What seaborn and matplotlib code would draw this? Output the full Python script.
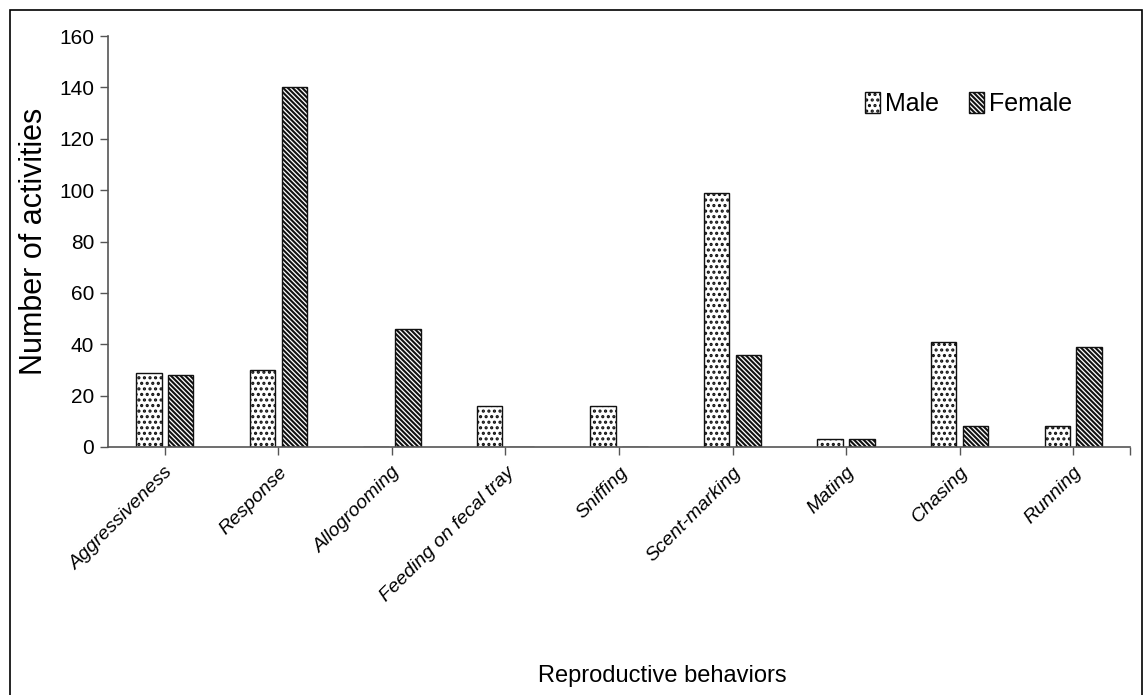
import numpy as np
import pandas as pd
import matplotlib
matplotlib.use("Agg")
import matplotlib.pyplot as plt
from matplotlib.patches import Rectangle, Patch
import seaborn as sns

behaviors = ["Aggressiveness", "Response", "Allogrooming", "Feeding on fecal tray",
             "Sniffing", "Scent-marking", "Mating", "Chasing", "Running"]
male = [29, 30, 0, 16, 16, 99, 3, 41, 8]
female = [28, 140, 46, 0, 0, 36, 3, 8, 39]
sexes = ["Male", "Female"]
y_ticks = [0, 20, 40, 60, 80, 100, 120, 140, 160]

df = pd.DataFrame({
    "Behavior": behaviors * 2,
    "Sex": ["Male"] * len(male) + ["Female"] * len(female),
    "Count": male + female,
})

sns.set_style("white")
plt.rcParams["font.family"] = ["Liberation Sans", "DejaVu Sans"]
plt.rcParams["hatch.linewidth"] = 1.5
plt.rcParams["text.color"] = "black"
plt.rcParams["axes.labelcolor"] = "black"
plt.rcParams["xtick.color"] = "black"
plt.rcParams["ytick.color"] = "black"

fig = plt.figure(figsize=(11.45, 6.95), dpi=100)
ax = fig.add_axes([108 / 1145, 1 - 447 / 695, 1022 / 1145, 411 / 695])

sns.barplot(data=df, x="Behavior", y="Count", hue="Sex", hue_order=sexes,
            order=behaviors, width=0.56, gap=0.2, ax=ax,
            palette={"Male": "white", "Female": "white"},
            edgecolor="#111111", linewidth=1.0, errorbar=None, legend=False)

hatches = {"Male": "...", "Female": "\\\\\\\\\\\\\\"}
for cont, sex in zip(ax.containers, sexes):
    for bar in cont:
        bar.set_hatch(hatches[sex])

ax.set_ylim(0, 160)
ax.set_xlim(-0.5, len(behaviors) - 0.5)
ax.set_yticks(y_ticks)
ax.tick_params(axis="y", labelsize=15, direction="out", length=6, width=1,
               color="#555555", left=True, pad=4)
ax.tick_params(axis="x", direction="out", length=6, width=1, color="#555555",
               bottom=True, pad=6)
ax.set_xticks(range(len(behaviors)))
ax.set_xticklabels(behaviors, rotation=45, ha="right", rotation_mode="anchor",
                   fontsize=14, style="italic")
ax.set_xticks([len(behaviors) - 0.5], minor=True)
ax.tick_params(axis="x", which="minor", direction="out", length=6, width=1,
               color="#555555", bottom=True)

for s in ["top", "right"]:
    ax.spines[s].set_visible(False)
for s in ["left", "bottom"]:
    ax.spines[s].set_color("#555555")
    ax.spines[s].set_linewidth(1.2)

ax.set_ylabel("Number of activities", fontsize=22)
ax.yaxis.set_label_coords(-0.058, 0.5)
ax.set_xlabel("Reproductive behaviors", fontsize=17)
ax.xaxis.set_label_coords((662 - 108) / 1022, (447 - 665) / 411)

handles = [Patch(facecolor="white", edgecolor="#111111", hatch=hatches[s], label=s)
           for s in sexes]
ax.legend(handles=handles, loc="center", bbox_to_anchor=(0.842, 0.835), ncol=2,
          frameon=False, fontsize=18, handlelength=0.6, handleheight=0.9,
          handletextpad=0.2, columnspacing=1.2)

fig.patches.append(Rectangle((10 / 1145, -0.02), 1132 / 1145, 1 - 10 / 695 + 0.02,
                             transform=fig.transFigure, fill=False,
                             edgecolor="black", linewidth=1.2))

fig.savefig("out.png", dpi=100)
